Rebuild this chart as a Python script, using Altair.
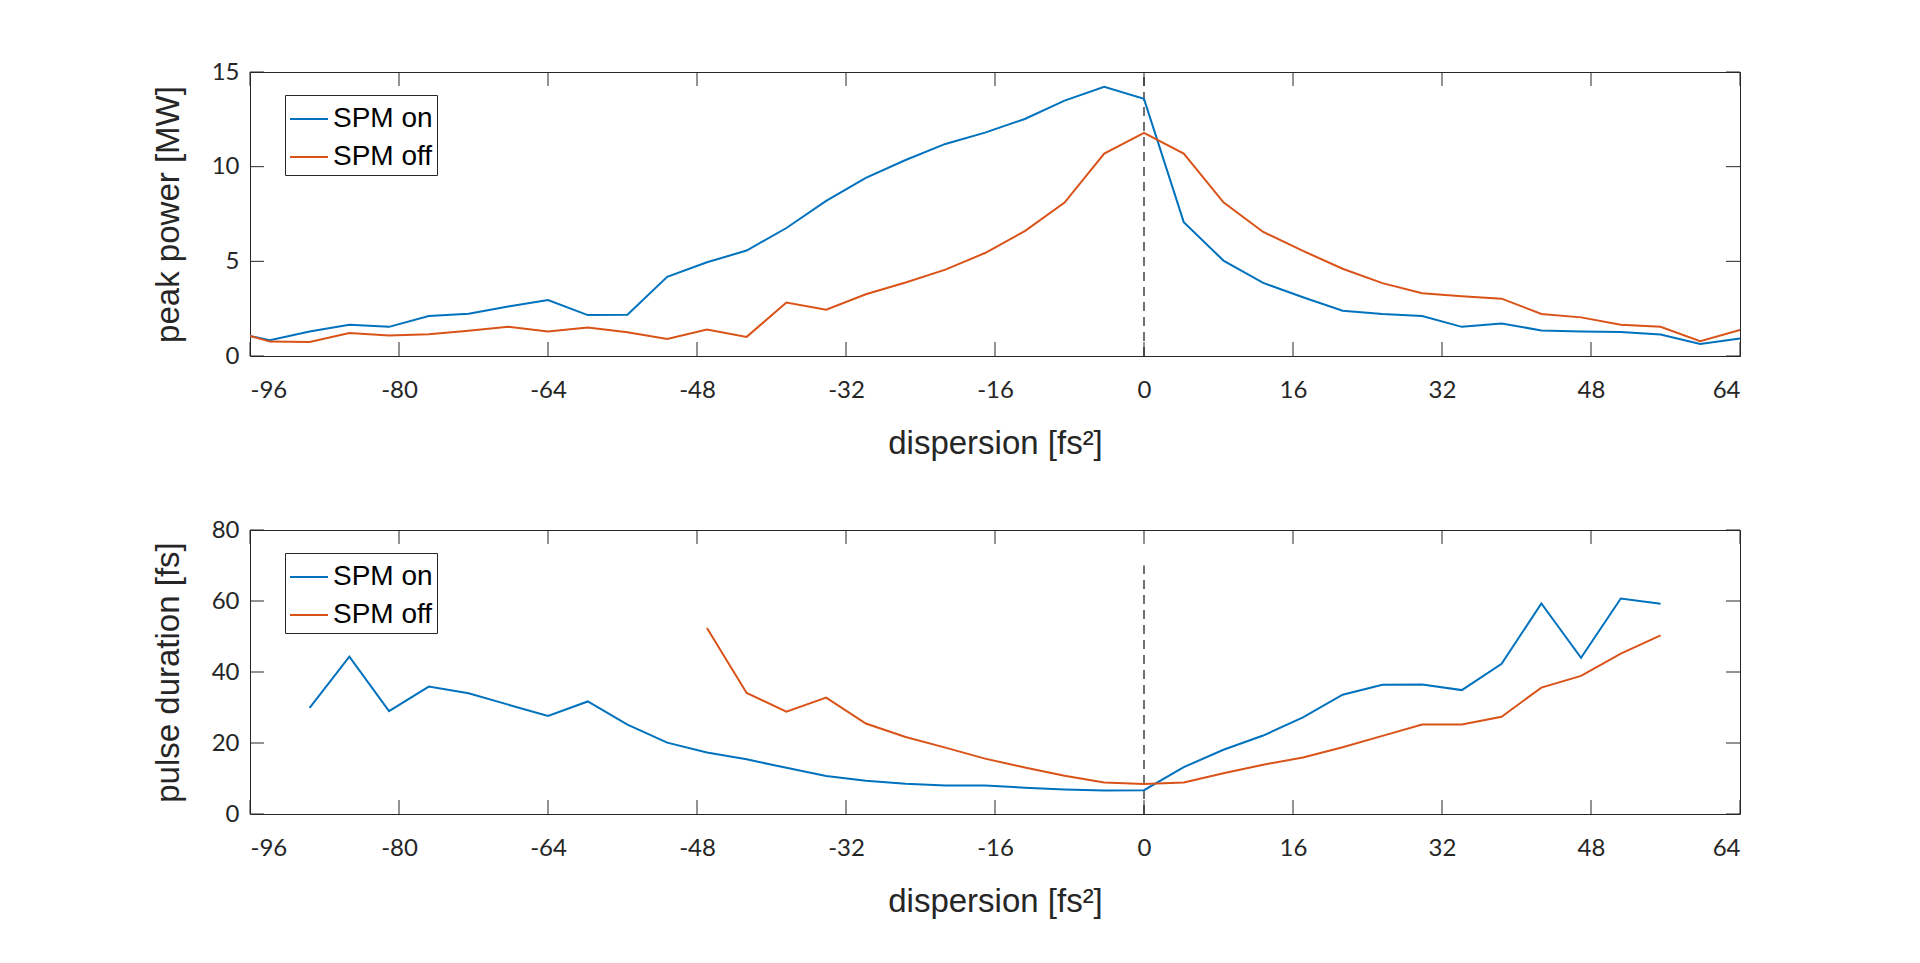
import altair as alt
import pandas as pd

# dispersion grid [fs^2]
X = [-98.13, -93.87, -89.60, -85.33, -81.07, -76.80, -72.53, -68.27, -64.00, -59.73,
     -55.47, -51.20, -46.93, -42.67, -38.40, -34.13, -29.87, -25.60, -21.33, -17.07,
     -12.80, -8.53, -4.27, 0.00, 4.27, 8.53, 12.80, 17.07, 21.33, 25.60,
     29.87, 34.13, 38.40, 42.67, 46.93, 51.20, 55.47, 59.73, 64.00]

# peak power [MW]
PEAK_ON = [1.29, 0.83, 1.29, 1.65, 1.54, 2.11, 2.23, 2.61, 2.96, 2.16,
           2.18, 4.18, 4.95, 5.57, 6.76, 8.19, 9.41, 10.35, 11.20, 11.80,
           12.52, 13.49, 14.22, 13.58, 7.07, 5.04, 3.86, 3.10, 2.39, 2.22,
           2.11, 1.54, 1.72, 1.35, 1.29, 1.27, 1.13, 0.64, 0.92]
PEAK_OFF = [1.36, 0.76, 0.74, 1.22, 1.08, 1.15, 1.33, 1.54, 1.29, 1.51,
            1.26, 0.90, 1.40, 1.01, 2.82, 2.45, 3.26, 3.88, 4.56, 5.44,
            6.60, 8.10, 10.69, 11.79, 10.69, 8.12, 6.55, 5.55, 4.61, 3.85,
            3.31, 3.16, 3.03, 2.22, 2.04, 1.65, 1.54, 0.78, 1.37]

# pulse duration [fs]
DUR_ON = [None, None, 29.9, 44.3, 29.0, 35.9, 34.0, 30.8, 27.6, 31.7,
          25.2, 20.1, 17.3, 15.4, 13.0, 10.7, 9.4, 8.5, 8.0, 8.0,
          7.4, 6.9, 6.6, 6.7, 13.2, 18.1, 22.1, 27.2, 33.6, 36.4,
          36.5, 34.9, 42.3, 59.3, 44.0, 60.7, 59.2, None, None]
DUR_OFF = [None, None, None, None, None, None, None, None, None, None,
           None, None, 52.4, 34.1, 28.8, 32.8, 25.5, 21.7, 18.7, 15.6,
           13.1, 10.8, 8.9, 8.45, 8.9, 11.5, 13.9, 15.9, 18.8, 22.0,
           25.2, 25.2, 27.4, 35.6, 38.9, 45.2, 50.3, None, None]

SERIES = ["SPM on", "SPM off"]
COLORS = ["#0072BD", "#D95319"]

X_TICKS = [-96, -80, -64, -48, -32, -16, 0, 16, 32, 48, 64]
X_DOMAIN = [-96, 64]
PEAK_TICKS = [0, 5, 10, 15]
DUR_TICKS = [0, 20, 40, 60, 80]
PEAK_ZERO_LINE = [0, 15]
DUR_ZERO_LINE = [0, 70]

W = 1490
H = 284
TICK = 14
AX = "#262626"


def panel(on, off, y_title, y_ticks, zero_line):
    rows = []
    for name, vals in zip(SERIES, [on, off]):
        for xv, yv in zip(X, vals):
            if yv is not None:
                rows.append({"x": xv, "y": yv, "series": name})
    df = pd.DataFrame(rows)
    xs = alt.Scale(domain=X_DOMAIN, nice=False, zero=False)
    ys = alt.Scale(domain=[y_ticks[0], y_ticks[-1]], nice=False, zero=False)

    zero = alt.Chart(pd.DataFrame({"x": [0], "y": [zero_line[0]], "y2": [zero_line[1]]})).mark_rule(
        strokeDash=[9, 6], color="#404040", strokeWidth=1.5
    ).encode(x=alt.X("x:Q", scale=xs), y=alt.Y("y:Q", scale=ys), y2="y2:Q")

    lines = alt.Chart(df).mark_line(clip=True, strokeWidth=2).encode(
        x=alt.X("x:Q", scale=xs,
                axis=alt.Axis(values=X_TICKS, title="dispersion [fs²]",
                              labelExpr="datum.value + ''")),
        y=alt.Y("y:Q", scale=ys, axis=alt.Axis(values=y_ticks, title=y_title,
                                               labelExpr="datum.value + ''")),
        color=alt.Color("series:N", scale=alt.Scale(domain=SERIES, range=COLORS),
                        legend=alt.Legend(
                            title=None, orient="none", legendX=35, legendY=23,
                            strokeColor=AX, fillColor="white", padding=4, cornerRadius=0,
                            symbolType="stroke", symbolSize=1444, symbolStrokeWidth=2,
                            labelFont="Liberation Sans", labelFontSize=28, labelColor="black",
                            labelOffset=4, rowPadding=4)),
        order="x:Q",
    )

    xt = pd.DataFrame({"x": X_TICKS})
    yt = pd.DataFrame({"y": y_ticks})
    tb = alt.Chart(xt).mark_rule(color=AX).encode(x=alt.X("x:Q", scale=xs), y=alt.value(H), y2=alt.value(H - TICK))
    tt = alt.Chart(xt).mark_rule(color=AX).encode(x=alt.X("x:Q", scale=xs), y=alt.value(0), y2=alt.value(TICK))
    tl = alt.Chart(yt).mark_rule(color=AX).encode(y=alt.Y("y:Q", scale=ys), x=alt.value(0), x2=alt.value(TICK))
    tr = alt.Chart(yt).mark_rule(color=AX).encode(y=alt.Y("y:Q", scale=ys), x=alt.value(W), x2=alt.value(W - TICK))

    return alt.layer(zero, lines, tb, tt, tl, tr).properties(width=W, height=H)


top = panel(PEAK_ON, PEAK_OFF, "peak power [MW]", PEAK_TICKS, PEAK_ZERO_LINE)
bottom = panel(DUR_ON, DUR_OFF, "pulse duration [fs]", DUR_TICKS, DUR_ZERO_LINE)

chart = alt.vconcat(top, bottom, spacing=56).resolve_scale(
    color="independent", y="independent"
).resolve_legend(color="independent").properties(
    padding={"left": 143, "top": 51, "right": 10, "bottom": 10}
).configure_view(
    stroke=AX, strokeWidth=1
).configure_axis(
    domain=False, ticks=False, grid=False,
    labelFont="Lato", labelFontSize=24, labelColor=AX,
    titleFont="Liberation Sans", titleFontSize=33, titleFontWeight="normal", titleColor=AX,
).configure_axisX(
    labelPadding=22, titlePadding=25
).configure_axisY(
    labelPadding=11, titlePadding=26
)

chart.save("out.html", embed_options={"renderer": "svg", "actions": False})
